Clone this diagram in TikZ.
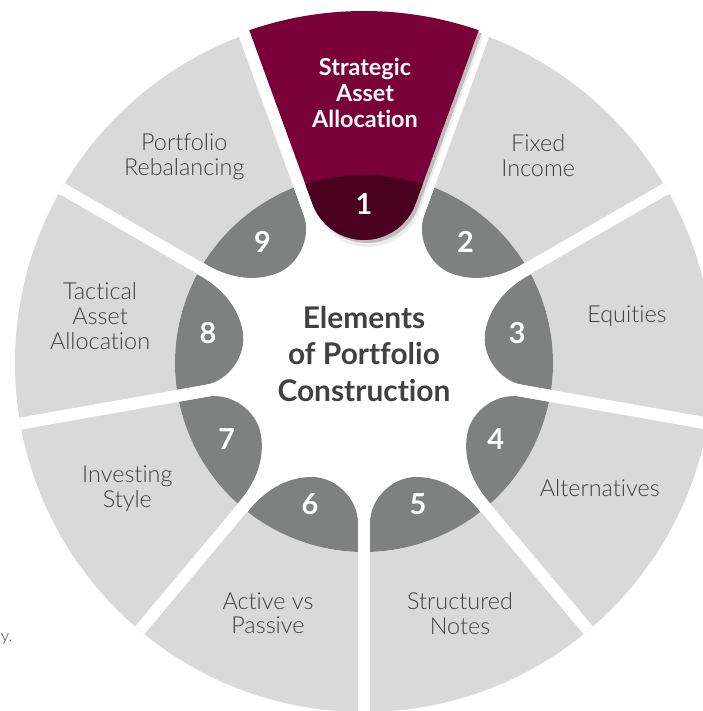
\documentclass[tikz,border=0pt]{standalone}
\usepackage{fontspec}
\setmainfont{Lato}[Ligatures=NoCommon]
\newfontfamily\lightfont{Lato Light}[Ligatures=NoCommon]
\usetikzlibrary{shadows}
\definecolor{wheelgray}{HTML}{D9D9D9}
\definecolor{ringgray}{HTML}{7F8180}
\definecolor{wine}{HTML}{7A0038}
\definecolor{darkwine}{HTML}{4B0021}
\definecolor{ink}{HTML}{414042}
\definecolor{bggray}{HTML}{ECEDED}
\pgfdeclareradialshading{halo}{\pgfpoint{0bp}{0bp}}{color(0bp)=(white); color(17bp)=(white); color(25bp)=(bggray); color(50bp)=(bggray)}
\newcommand{\petalpath}{(-88.18:189) -- (6,-160) .. controls (6,-136) and (28,-114) .. (52,-114) .. controls (78,-114) and (100,-128) .. (-52:189) arc[start angle=-52, end angle=-88.18, radius=189] -- cycle}
\newcommand{\winepath}{(109.02:352) arc[start angle=109.02, end angle=70.98, radius=352] -- (51.5,159.1) arc[start angle=-20, end angle=-160, radius=54.8] -- cycle}

\begin{document}
\begin{tikzpicture}[x=1bp, y=1bp,
    petal/.style={fill=ringgray},
    gap/.style={draw=white, line width=12bp},
    tag/.style={font=\lightfont\fontsize{23.5}{25}\selectfont, text=ink, align=center},
    num/.style={font=\bfseries\fontsize{29}{29}\selectfont, text=white},
    headline/.style={font=\bfseries\fontsize{23.5}{26}\selectfont, text=white, align=center},
    centre/.style={font=\bfseries\fontsize{30}{37}\selectfont, text=ink, align=center}]
  \useasboundingbox (-364,-348) rectangle (339,363);
  \shade[shading=halo] (0,0) circle[radius=1000];
  \fill[wheelgray] (0,0) circle[radius=349];
  \fill[white] (0,0) circle[radius=189];
  \foreach \ang in {0,80,200,280}
    \fill[petal, rotate=\ang] \petalpath;
  \foreach \ang in {0,80,160,280}
    \fill[petal, rotate=\ang, xscale=-1] \petalpath;
  \foreach \ang in {70,30,...,-250}
    \draw[gap] (0,0) -- (\ang:349);
  \fill[gray!40, opacity=.35, shift={(4,-7)}] \winepath;
  \fill[gray!60, opacity=.8, shift={(3,-3)}] \winepath;
  \fill[wine] \winepath;
  \begin{scope}
    \clip \winepath;
    \fill[darkwine] (0,0) circle[radius=188];
  \end{scope}
  \node[headline] (strategic) at (1,270) {Strategic\\Asset\\Allocation};
  \node[centre] (elements) at (0,9) {Elements\\of Portfolio\\Construction};
  \foreach \n/\ang/\rad in {1/90/159, 2/50/158, 3/11/156, 4/-30/152, 5/-69/151, 6/-111/151, 7/-151/157, 8/169/159, 9/130/158}
    \node[num] (num\n) at (\ang:\rad) {\n};
  \foreach \n/\ang/\rad/\txt in {2/50/271/{Fixed\\Income}, 3/10/267/Equities, 4/-28/267/Alternatives, 5/-69/268/{Structured\\Notes}, 6/-111/268/{Active vs\\Passive}, 7/-152/268/{Investing\\Style}, 8/170/268/{Tactical\\Asset\\Allocation}, 9/131/274/{Portfolio\\Rebalancing}}
    \node[tag] (tag\n) at (\ang:\rad) {\txt};
  \node[tag, anchor=base west, inner sep=1bp, font=\lightfont\fontsize{16}{20}\selectfont] (cut) at (-364,-278) {y.};
\end{tikzpicture}
\end{document}
